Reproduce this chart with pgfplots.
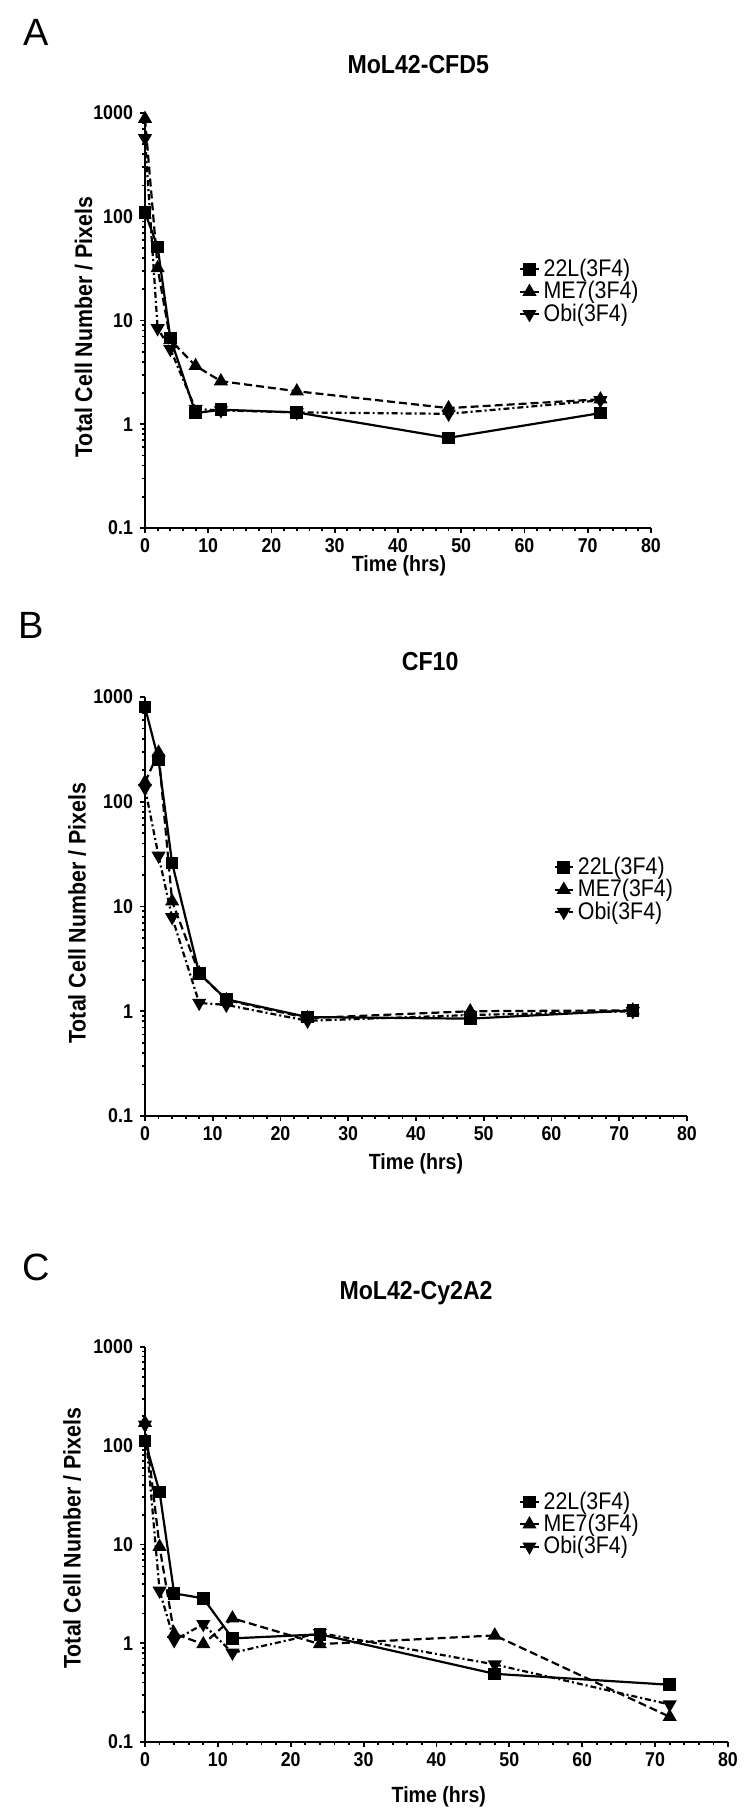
\documentclass[border=0pt]{standalone}
\usepackage{fontspec}
\setmainfont[FakeStretch=0.89]{Liberation Sans}
\newfontfamily\letterfont{Liberation Sans}
\usepackage{pgfplots}
\usepackage{pgfplotstable}
\pgfplotsset{compat=1.18}

\pgfplotstableread{
t L22 ME7 Obi
0 110 880 570
2 51 32 8.4
4 6.8 6.5 5.3
8 1.28 3.65 1.4
12 1.38 2.6 1.36
24 1.30 2.08 1.3
48 0.74 1.43 1.26
72 1.28 1.74 1.70
}\dataA

\pgfplotstableread{
t L22 ME7 Obi
0 800 154 135
2 250 295 30.5
4 26 11.2 7.9
8 2.3 2.3 1.2
12 1.3 1.28 1.15
24 0.88 0.86 0.81
48 0.85 1.0 0.92
72 1.02 1.02 1.0
}\dataB

\pgfplotstableread{
t L22 ME7 Obi
0 112 171 163
2 34 9.5 3.4
4 3.2 1.25 1.07
8 2.85 0.98 1.56
12 1.12 1.79 0.80
24 1.23 0.98 1.27
48 0.49 1.2 0.61
72 0.38 0.18 0.24
}\dataC

\pgfplotsset{
 legend image code/.code={\draw[mark repeat=2,mark phase=2,#1] plot coordinates {(0cm,0cm) (0.16cm,0cm) (0.32cm,0cm)};},
}
\pgfplotsset{
 myax/.style={
  scale only axis, xmin=0, xmax=80, ymin=0.1, ymax=1000,
  axis x line*=bottom, axis y line*=left,
  axis line style={-, line width=1.1pt},
  tick align=outside, major tick length=2.5pt, minor tick length=1.5pt,
  every tick/.style={black, line width=0.9pt},
  xtick={0,10,...,80}, xticklabels={0,10,20,30,40,50,60,70,80},
  minor x tick num=4,
  ytick={0.1,1,10,100,1000}, yticklabels={0.1,1,10,100,1000},
  minor ytick={0.2,0.3,0.4,0.5,0.6,0.7,0.8,0.9,2,3,4,5,6,7,8,9,20,30,40,50,60,70,80,90,200,300,400,500,600,700,800,900},
  tick label style={font=\bfseries\fontsize{10}{12}\selectfont},
  xticklabel style={yshift=1pt},
  ylabel style={font=\bfseries\fontsize{12}{14}\selectfont},
  xlabel style={font=\bfseries\fontsize{11}{13}\selectfont},
  title style={font=\bfseries\fontsize{13}{15}\selectfont, anchor=center},
  ylabel={Total Cell Number / Pixels}, xlabel={Time (hrs)},
  clip=false,
  reverse legend,
  legend style={draw=none, fill=none, anchor=north west, font=\fontsize{12}{13}\selectfont, row sep=-3pt, cells={anchor=west}},
 },
 s22/.style={black, solid, line width=1.1pt, mark=square*, mark size=2.6pt, mark options={solid}},
 sME/.style={black, dash pattern=on 4pt off 2pt, line width=1.1pt, mark=triangle*, mark size=3pt, mark options={solid}},
 sObi/.style={black, dash pattern=on 3pt off 1.5pt on 1pt off 1.5pt, line width=1.1pt, mark=triangle*, mark size=3pt, mark options={solid, rotate=180}},
}

\begin{document}
\begin{tikzpicture}
\useasboundingbox (0,0) rectangle (375pt,907.5pt);

% Panel A
\begin{semilogyaxis}[myax, at={(72.5pt,643.5pt)}, anchor=south west, width=253pt, height=207.5pt,
  title={MoL42-CFD5}, title style={at={(axis description cs:0.54,1.087)}},
  ylabel style={at={(axis description cs:-0.121,0.484)}, anchor=center},
  xlabel style={at={(axis description cs:0.502,-0.092)}, anchor=center},
  legend style={at={(axis description cs:0.727,0.668)}}]
\addplot[sObi] table[x=t,y=Obi]{\dataA};
\addlegendentry{Obi(3F4)}
\addplot[sME] table[x=t,y=ME7]{\dataA};
\addlegendentry{ME7(3F4)}
\addplot[s22] table[x=t,y=L22]{\dataA};
\addlegendentry{22L(3F4)}
\end{semilogyaxis}

% Panel B
\begin{semilogyaxis}[myax, at={(72.5pt,349.5pt)}, anchor=south west, width=271pt, height=209.5pt,
  title={CF10}, title style={at={(axis description cs:0.526,1.055)}},
  ylabel style={at={(axis description cs:-0.125,0.484)}, anchor=center},
  xlabel style={at={(axis description cs:0.5,-0.115)}, anchor=center},
  legend style={at={(axis description cs:0.742,0.638)}}]
\addplot[sObi] table[x=t,y=Obi]{\dataB};
\addlegendentry{Obi(3F4)}
\addplot[sME] table[x=t,y=ME7]{\dataB};
\addlegendentry{ME7(3F4)}
\addplot[s22] table[x=t,y=L22]{\dataB};
\addlegendentry{22L(3F4)}
\end{semilogyaxis}

% Panel C
\begin{semilogyaxis}[myax, at={(72.5pt,36.5pt)}, anchor=south west, width=291.5pt, height=197.5pt,
  title={MoL42-Cy2A2}, title style={at={(axis description cs:0.465,1.107)}},
  ylabel style={at={(axis description cs:-0.125,0.516)}, anchor=center},
  xlabel style={at={(axis description cs:0.504,-0.139)}, anchor=center},
  legend style={at={(axis description cs:0.631,0.655)}}]
\addplot[sObi] table[x=t,y=Obi]{\dataC};
\addlegendentry{Obi(3F4)}
\addplot[sME] table[x=t,y=ME7]{\dataC};
\addlegendentry{ME7(3F4)}
\addplot[s22] table[x=t,y=L22]{\dataC};
\addlegendentry{22L(3F4)}
\end{semilogyaxis}

\node[font=\letterfont\fontsize{19}{19}\selectfont] at (18pt,891.5pt) {A};
\node[font=\letterfont\fontsize{19}{19}\selectfont] at (15.5pt,595pt) {B};
\node[font=\letterfont\fontsize{19}{19}\selectfont] at (18pt,274pt) {C};
\end{tikzpicture}
\end{document}
